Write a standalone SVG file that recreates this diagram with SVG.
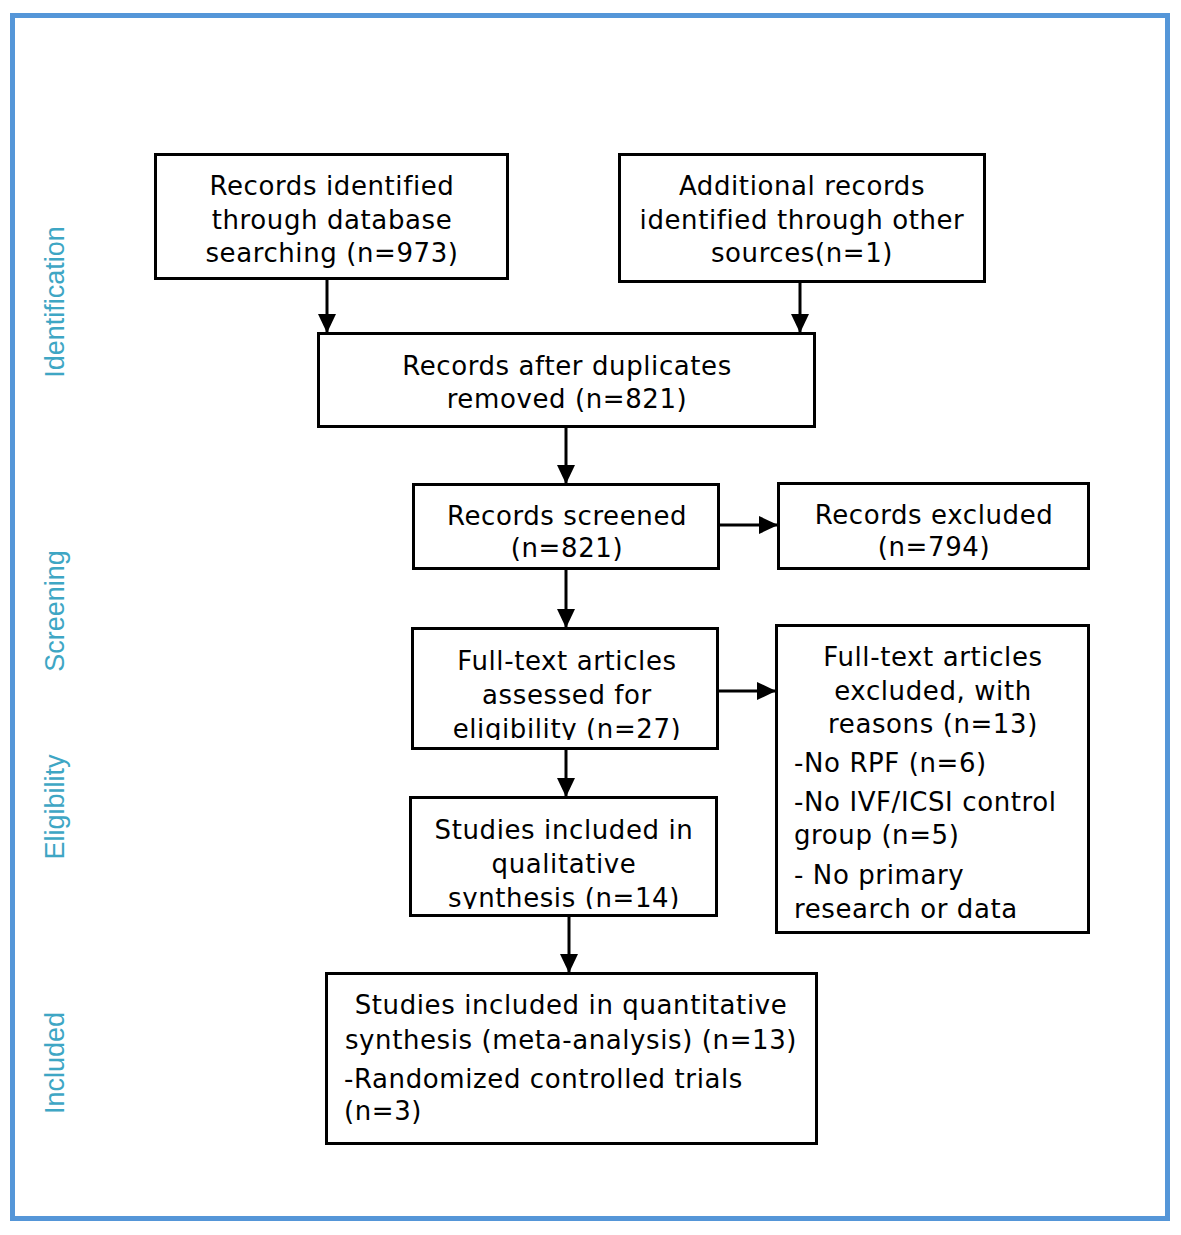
<svg xmlns="http://www.w3.org/2000/svg" width="1181" height="1235" viewBox="0 0 1181 1235">
<style>
.box{fill:#fff;stroke:#000;stroke-width:3}
.t{font-family:"DejaVu Sans",sans-serif;font-size:26px;letter-spacing:0.6px;fill:#000}
.c{text-anchor:middle}
.side{font-family:"Liberation Sans",Arial,sans-serif;font-size:27px;fill:#3ea6c4;text-anchor:middle}
.conn{stroke:#000;stroke-width:3;fill:none}
</style>
<defs>
<marker id="ah" markerUnits="userSpaceOnUse" markerWidth="19" markerHeight="18" refX="19" refY="9" orient="auto">
<path d="M0,0 L19,9 L0,18 z" fill="#000"/>
</marker>
<clipPath id="clip6"><rect x="412" y="628" width="306" height="112"/></clipPath>
<clipPath id="clip8"><rect x="410" y="797" width="307" height="112"/></clipPath>
</defs>
<rect width="1181" height="1235" fill="#fff"/>
<rect x="12.5" y="15.5" width="1155" height="1203" fill="none" stroke="#5596d8" stroke-width="5"/>

<g id="labels">
<text class="side" transform="translate(64,302) rotate(-90)">Identification</text>
<text class="side" transform="translate(64,611) rotate(-90)">Screening</text>
<text class="side" transform="translate(64,807) rotate(-90)">Eligibility</text>
<text class="side" transform="translate(64,1063) rotate(-90)">Included</text>
</g>

<g id="connectors">
<line class="conn" x1="327" y1="279" x2="327" y2="333" marker-end="url(#ah)"/>
<line class="conn" x1="800" y1="282" x2="800" y2="333" marker-end="url(#ah)"/>
<line class="conn" x1="566" y1="427" x2="566" y2="484" marker-end="url(#ah)"/>
<line class="conn" x1="718" y1="525" x2="778" y2="525" marker-end="url(#ah)"/>
<line class="conn" x1="566" y1="569" x2="566" y2="628" marker-end="url(#ah)"/>
<line class="conn" x1="718" y1="691" x2="776" y2="691" marker-end="url(#ah)"/>
<line class="conn" x1="566" y1="749" x2="566" y2="797" marker-end="url(#ah)"/>
<line class="conn" x1="569" y1="916" x2="569" y2="973" marker-end="url(#ah)"/>
</g>

<g id="n1">
<rect class="box" x="155.5" y="154.5" width="352" height="124"/>
<text class="t c" x="332" y="195">Records identified</text>
<text class="t c" x="332" y="229">through database</text>
<text class="t c" x="332" y="262">searching (n=973)</text>
</g>
<g id="n2">
<rect class="box" x="619.5" y="154.5" width="365" height="127"/>
<text class="t c" x="802" y="195">Additional records</text>
<text class="t c" x="802" y="229">identified through other</text>
<text class="t c" x="802" y="262">sources(n=1)</text>
</g>
<g id="n3">
<rect class="box" x="318.5" y="333.5" width="496" height="93"/>
<text class="t c" x="567" y="375">Records after duplicates</text>
<text class="t c" x="567" y="408">removed (n=821)</text>
</g>
<g id="n4">
<rect class="box" x="413.5" y="484.5" width="305" height="84"/>
<text class="t c" x="567" y="525">Records screened</text>
<text class="t c" x="567" y="557">(n=821)</text>
</g>
<g id="n5">
<rect class="box" x="778.5" y="483.5" width="310" height="85"/>
<text class="t c" x="934" y="524">Records excluded</text>
<text class="t c" x="934" y="556">(n=794)</text>
</g>
<g id="n6">
<rect class="box" x="412.5" y="628.5" width="305" height="120"/>
<g clip-path="url(#clip6)">
<text class="t c" x="567" y="670">Full-text articles</text>
<text class="t c" x="567" y="704">assessed for</text>
<text class="t c" x="567" y="738">eligibility (n=27)</text>
</g>
</g>
<g id="n7">
<rect class="box" x="776.5" y="625.5" width="312" height="307"/>
<text class="t c" x="933" y="666">Full-text articles</text>
<text class="t c" x="933" y="700">excluded, with</text>
<text class="t c" x="933" y="733">reasons (n=13)</text>
<text class="t" x="794" y="772">-No RPF (n=6)</text>
<text class="t" x="794" y="811">-No IVF/ICSI control</text>
<text class="t" x="794" y="844">group (n=5)</text>
<text class="t" x="794" y="884">- No primary</text>
<text class="t" x="794" y="918">research or data</text>
</g>
<g id="n8">
<rect class="box" x="410.5" y="797.5" width="306" height="118"/>
<g clip-path="url(#clip8)">
<text class="t c" x="564" y="839">Studies included in</text>
<text class="t c" x="564" y="873">qualitative</text>
<text class="t c" x="564" y="907">synthesis (n=14)</text>
</g>
</g>
<g id="n9">
<rect class="box" x="326.5" y="973.5" width="490" height="170"/>
<text class="t c" x="571" y="1014">Studies included in quantitative</text>
<text class="t c" x="571" y="1049">synthesis (meta-analysis) (n=13)</text>
<text class="t" x="344" y="1088">-Randomized controlled trials</text>
<text class="t" x="344" y="1120">(n=3)</text>
</g>
</svg>
